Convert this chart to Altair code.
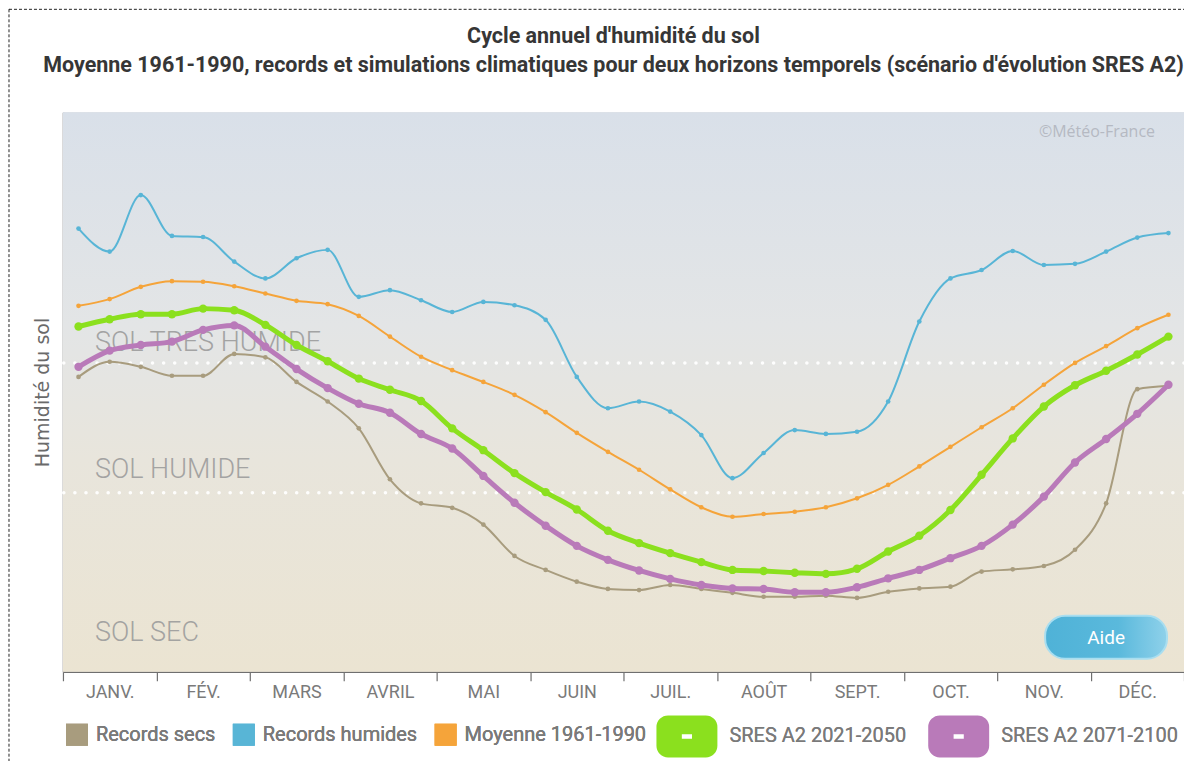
import json
import altair as alt
import pandas as pd

# ---------------- data ----------------
months = ["JANV.", "FÉV.", "MARS", "AVRIL", "MAI", "JUIN",
          "JUIL.", "AOÛT", "SEPT.", "OCT.", "NOV.", "DÉC."]

series_names = ["Records secs", "Records humides", "Moyenne 1961-1990",
                "SRES A2 2021-2050", "SRES A2 2071-2100"]

records_secs = [52.7, 55.4, 54.5, 52.9, 52.9, 56.8, 56.2, 51.8, 48.3, 43.5, 34.4, 30.1,
                29.3, 26.3, 20.7, 18.2, 16.1, 14.8, 14.6, 15.5, 14.8, 14.1, 13.4, 13.4,
                13.6, 13.2, 14.3, 14.9, 15.2, 17.9, 18.3, 18.9, 21.8, 30.1, 50.5, 51.1]

records_humides = [79.2, 75.1, 85.2, 77.9, 77.7, 73.3, 70.3, 73.9, 75.4, 67.0, 68.2, 66.4,
                   64.3, 66.1, 65.5, 62.9, 52.7, 47.1, 48.3, 46.5, 42.3, 34.6, 39.1, 43.2,
                   42.5, 42.9, 48.3, 62.6, 70.3, 71.8, 75.2, 72.7, 72.9, 75.1, 77.6, 78.4]

moyenne = [65.4, 66.6, 68.8, 69.8, 69.7, 68.9, 67.6, 66.3, 65.7, 63.6, 59.9, 56.3,
           53.9, 51.8, 49.5, 46.4, 42.7, 39.3, 36.1, 32.6, 29.4, 27.7, 28.2, 28.6,
           29.4, 31.0, 33.4, 36.7, 40.2, 43.7, 47.1, 51.3, 55.2, 58.2, 61.4, 63.8]

sres_2021_2050 = [61.7, 63.0, 63.9, 63.9, 64.9, 64.6, 62.0, 58.4, 55.5, 52.4, 50.4, 48.4,
                  43.5, 39.6, 35.5, 32.1, 29.0, 25.2, 23.0, 21.2, 19.6, 18.2, 18.0, 17.7,
                  17.5, 18.4, 21.5, 24.3, 28.9, 35.2, 41.7, 47.4, 51.2, 53.8, 56.7, 59.9]

sres_2071_2100 = [54.5, 57.4, 58.4, 59.0, 61.1, 61.9, 58.1, 54.1, 50.7, 47.9, 46.3, 42.5,
                  39.9, 35.0, 30.2, 26.1, 22.5, 20.0, 18.1, 16.6, 15.5, 14.9, 14.8, 14.2,
                  14.2, 15.1, 16.7, 18.2, 20.3, 22.5, 26.3, 31.3, 37.4, 41.6, 46.1, 51.3]

thresholds = [55.2, 32.0]
zone_labels = ["SOL TRES HUMIDE", "SOL HUMIDE", "SOL SEC"]
zone_label_y = [58.8, 36.1, 7.0]
zone_label_x = [1.03, 1.03, 1.03]

title_lines = ["Cycle annuel d'humidité du sol",
               "Moyenne 1961-1990, records et simulations climatiques pour deux horizons "
               "temporels (scénario d'évolution SRES A2)"]

series_colors = ["#a89c7e", "#58b5d6", "#f5a43a", "#8be01e", "#b97ab9"]
series_widths = [2, 2, 2, 5, 5]
series_point_sizes = [22, 22, 22, 70, 70]

# ---------------- tables ----------------
values_by_series = [records_secs, records_humides, moyenne, sres_2021_2050, sres_2071_2100]
rows = []
for name, vals in zip(series_names, values_by_series):
    for i, v in enumerate(vals):
        rows.append({"serie": name, "decade": i + 0.5, "val": v})
df = pd.DataFrame(rows)

W, H = 1122, 560
COND = "'Liberation Sans Narrow', 'Arial Narrow', Roboto, sans-serif"

xscale = alt.Scale(domain=[0, 36], nice=False, zero=False)
yscale = alt.Scale(domain=[0, 100], nice=False, zero=False)

month_expr = json.dumps(months, ensure_ascii=False) + "[datum.value / 3] || ''"

x_axis = alt.Axis(values=list(range(0, 37, 3)), labelExpr=month_expr, labelOffset=W / 24,
                  labelFont=COND, labelFontSize=18, labelColor="#7a7a7a", labelPadding=3,
                  labelOverlap=False, labelBound=False, labelFlush=False,
                  tickSize=9, tickColor="#6f6f6f", tickWidth=1.2,
                  domainColor="#6f6f6f", domainWidth=1.5, grid=False, title=None)
y_axis = alt.Axis(labels=False, ticks=False, grid=False, domainColor="#8a8a8a", domainWidth=1.5,
                  title="Humidité du sol", titleFont="DejaVu Sans", titleFontSize=19,
                  titleFontWeight="normal", titleColor="#6a6a6a", titlePadding=10)

one = pd.DataFrame({"t": ["x"]})

# background gradient for plotting area
grad = alt.LinearGradient(gradient="linear", x1=0, x2=0, y1=0, y2=1, stops=[
    alt.GradientStop(color="#d9e0e9", offset=0.0),
    alt.GradientStop(color="#e3e5e6", offset=0.38),
    alt.GradientStop(color="#e8e5dc", offset=0.62),
    alt.GradientStop(color="#ebe4d2", offset=1.0),
])
background = alt.Chart(one).mark_rect(fill=grad).encode(
    x=alt.value(0), x2=alt.value(W), y=alt.value(0), y2=alt.value(H))

# page dashed frame
frame = alt.Chart(one).mark_rect(fill=None, stroke="#222222", strokeWidth=1,
                                 strokeDash=[3, 2]).encode(
    x=alt.value(-54), x2=alt.value(1127), y=alt.value(-103), y2=alt.value(H + 110))

# titles
titles_df = pd.DataFrame({"t": title_lines, "py": [-75, -46]})
titles = alt.Chart(titles_df).mark_text(align="center", baseline="middle", font=COND,
                                        fontSize=21.5, fontWeight="bold", color="#363636").encode(
    x=alt.value(551), y=alt.Y("py:Q", scale=None), text="t:N")

# base for data layers with axes
base_axes = alt.Chart(df).mark_point(opacity=0).encode(
    x=alt.X("decade:Q", scale=xscale, axis=x_axis),
    y=alt.Y("val:Q", scale=yscale, axis=y_axis))

thr_df = pd.DataFrame({"thr": thresholds})
thr = alt.Chart(thr_df).mark_rule(color="white", strokeWidth=3.5, strokeDash=[0.1, 11],
                                  strokeCap="round", opacity=0.95).encode(
    y=alt.Y("thr:Q", scale=yscale))

zones_df = pd.DataFrame({"lab": zone_labels, "y": zone_label_y, "x": zone_label_x})
zones = alt.Chart(zones_df).mark_text(align="left", baseline="middle", font=COND,
                                      fontSize=27, fontWeight=300, color="#9c9c9c",
                                      opacity=0.9).encode(
    x=alt.X("x:Q", scale=xscale), y=alt.Y("y:Q", scale=yscale), text="lab:N")

# two legends: squares for records/mean, rounded toggles for scenarios
color_scale = alt.Scale(domain=series_names[:3], range=series_colors[:3])
fill_scale = alt.Scale(domain=series_names[3:], range=series_colors[3:])
legend1 = alt.Legend(orient="none", legendX=3, legendY=612, direction="horizontal", columns=3,
                     title=None, symbolType="square", symbolSize=480, symbolStrokeWidth=0,
                     labelFont=COND, labelFontSize=20, labelColor="#7a7a7a", labelOffset=8,
                     columnPadding=17, padding=0, labelLimit=300)
# rounded toggle with a small dash-shaped hole in its middle
toggle_path = ("M -0.6,-0.7 L 0.6,-0.7 A 0.4 0.4 0 0 1 1,-0.3 L 1,0.3 "
               "A 0.4 0.4 0 0 1 0.6,0.7 L -0.6,0.7 A 0.4 0.4 0 0 1 -1,0.3 "
               "L -1,-0.3 A 0.4 0.4 0 0 1 -0.6,-0.7 Z "
               "M -0.13,-0.04 L -0.13,0.04 L 0.13,0.04 L 0.13,-0.04 Z")
legend2 = alt.Legend(orient="none", legendX=592, legendY=592, direction="horizontal", columns=2,
                     title=None, symbolType=toggle_path, symbolSize=3969,
                     symbolStrokeWidth=2, symbolStrokeColor="#ffffff",
                     labelFont=COND, labelFontSize=20, labelColor="#7a7a7a", labelOffset=10,
                     columnPadding=16, padding=0, labelLimit=300)

order = [1, 2, 0, 4, 3]
layers = []
for k in order:
    name = series_names[k]
    sub = alt.Chart(df).transform_filter(alt.datum.serie == name)
    line = sub.mark_line(interpolate="monotone", strokeWidth=series_widths[k],
                         color=series_colors[k]).encode(
        x=alt.X("decade:Q", scale=xscale), y=alt.Y("val:Q", scale=yscale))
    if k < 3:
        pts = sub.mark_circle(size=series_point_sizes[k], opacity=1).encode(
            x=alt.X("decade:Q", scale=xscale), y=alt.Y("val:Q", scale=yscale),
            color=alt.Color("serie:N", scale=color_scale, legend=legend1))
    else:
        pts = sub.mark_circle(size=series_point_sizes[k], opacity=1).encode(
            x=alt.X("decade:Q", scale=xscale), y=alt.Y("val:Q", scale=yscale),
            fill=alt.Fill("serie:N", scale=fill_scale, legend=legend2))
    layers += [line, pts]

copyright_txt = alt.Chart(pd.DataFrame({"t": ["©Météo-France"]})).mark_text(
    align="right", baseline="middle", font="'Open Sans', sans-serif", fontSize=16,
    color="#b5b9c2").encode(x=alt.value(1093), y=alt.value(20), text="t:N")

btn_grad = alt.LinearGradient(gradient="linear", x1=0, x2=1, y1=0, y2=0, stops=[
    alt.GradientStop(color="#4fb2d7", offset=0.0),
    alt.GradientStop(color="#5ab9dc", offset=0.6),
    alt.GradientStop(color="#8fd1ea", offset=1.0),
])
aide_btn = alt.Chart(one).mark_rect(fill=btn_grad, stroke="#a9def0", strokeWidth=2,
                                    cornerRadius=20).encode(
    x=alt.value(983), x2=alt.value(1105), y=alt.value(504), y2=alt.value(547))
aide_txt = alt.Chart(pd.DataFrame({"t": ["Aide"]})).mark_text(
    align="center", baseline="middle", font=COND, fontSize=19, color="white").encode(
    x=alt.value(1044), y=alt.value(526), text="t:N")

chart = alt.layer(background, frame, titles, base_axes, thr, zones, *layers,
                  copyright_txt, aide_btn, aide_txt).properties(
    width=W, height=H,
    autosize=alt.AutoSizeParams(type="none"),
    padding={"left": 55, "top": 104, "right": 0, "bottom": 89},
).resolve_legend(color="independent", fill="independent").configure_view(
    stroke=None).configure(background="white")

chart.save("out.html", embed_options={"renderer": "svg", "actions": False})
